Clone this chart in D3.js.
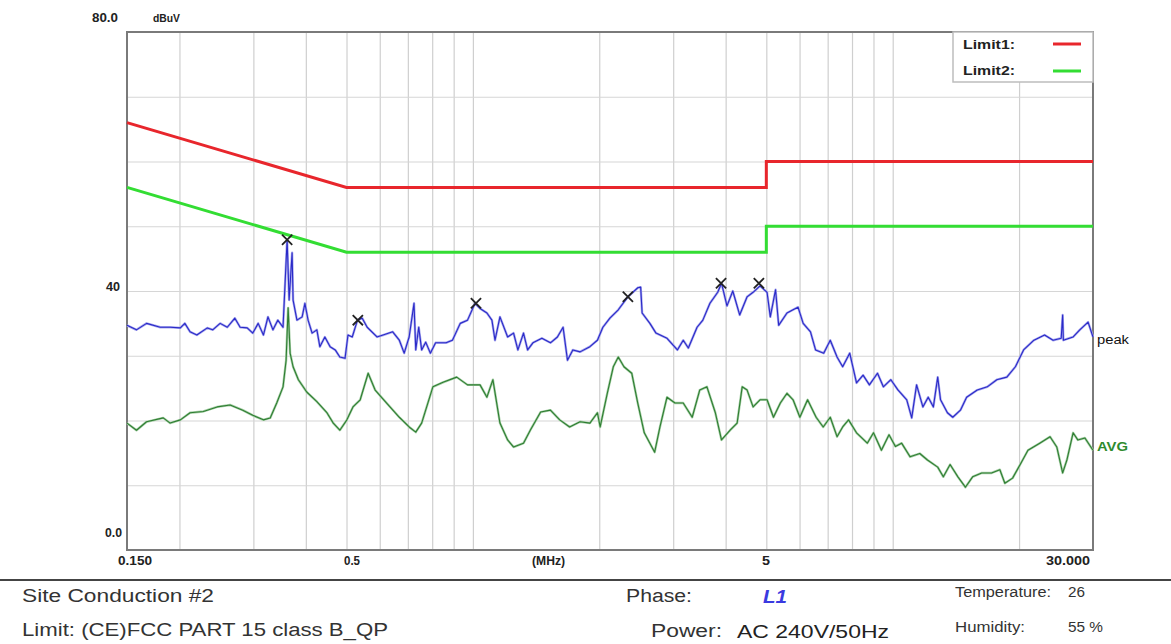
<!DOCTYPE html>
<html><head><meta charset="utf-8">
<script src="https://cdn.jsdelivr.net/npm/d3@7"></script>
<style>
body{margin:0;background:#fff;}
svg{display:block;}
</style></head><body>
<svg id="c" width="1171" height="644"></svg>
<script>
// ---------- DATA ----------
const peakFreq = [0.150,0.158,0.167,0.180,0.190,0.201,0.206,0.212,0.220,0.233,
0.240,0.250,0.260,0.271,0.279,0.290,0.299,0.308,0.317,0.325,
0.334,0.343,0.353,0.357,0.361,0.365,0.371,0.373,0.381,0.392,
0.398,0.405,0.414,0.425,0.432,0.444,0.457,0.470,0.482,0.496,
0.504,0.516,0.531,0.545,0.560,0.591,0.611,0.644,0.668,0.686,
0.705,0.724,0.731,0.743,0.755,0.772,0.792,0.815,0.863,0.894,
0.933,0.971,1.012,1.040,1.080,1.110,1.129,1.16,1.21,1.25,
1.28,1.32,1.35,1.39,1.46,1.53,1.59,1.64,1.68,1.73,
1.80,1.90,1.98,2.04,2.12,2.22,2.34,2.47,2.51,2.53,
2.64,2.73,2.90,3.07,3.17,3.26,3.42,3.53,3.67,3.83,
3.91,4.03,4.16,4.32,4.50,4.65,4.83,5.02,5.11,5.26,
5.35,5.60,5.79,5.95,6.12,6.37,6.55,6.85,7.1,7.37,
7.6,7.9,8.2,8.5,8.8,9.2,9.5,9.9,10.3,10.8,
11.1,11.4,11.8,12.15,12.5,12.8,13.0,13.5,13.9,14.5,
15.0,15.9,16.8,17.7,18.7,19.6,20.5,21.7,23.0,24.1,
25.2,25.4,25.5,26.9,27.9,29.2,30.0];
const peakLevel = [34.7,34.0,35.0,34.4,34.4,34.3,35.0,33.7,33.2,34.3,
34.0,35.0,34.4,35.8,34.4,34.3,33.5,35.0,33.2,36.0,
34.0,35.5,34.4,41.2,47.9,38.6,45.9,38.6,35.5,36.0,
38.1,35.5,33.5,34.0,31.4,32.9,31.4,30.9,29.8,29.6,
33.2,32.9,35.5,35.8,34.4,32.9,33.2,33.7,32.4,30.4,
32.9,38.1,30.9,34.4,30.9,32.1,30.4,32.0,32.0,32.4,
35.0,35.5,38.1,37.3,36.6,35.5,32.4,36.0,32.9,33.5,
30.9,33.5,30.9,32.0,32.7,32.0,32.9,34.4,29.3,30.9,
30.6,31.4,32.4,34.4,35.8,37.1,39.1,40.5,40.6,36.6,
35.0,33.5,32.7,30.9,32.4,31.2,34.4,35.5,38.1,39.8,
41.2,37.7,40.0,36.3,39.1,39.8,40.8,39.8,36.0,40.2,
34.7,36.6,37.1,37.5,35.0,33.7,30.9,30.4,32.4,29.8,
28.3,30.4,25.8,27.0,25.5,27.3,25.2,26.3,24.7,23.2,
20.4,25.5,22.1,23.6,22.1,26.7,23.2,21.2,20.5,21.6,
23.6,24.7,25.2,26.3,26.7,28.3,30.9,32.4,33.2,32.4,
32.7,36.3,32.4,32.9,34.0,35.2,32.9];

const avgFreq = [0.150,0.158,0.167,0.183,0.190,0.201,0.212,0.228,0.246,0.264,
0.283,0.299,0.317,0.329,0.341,0.353,0.359,0.363,0.367,0.373,
0.384,0.402,0.425,0.449,0.465,0.482,0.501,0.518,0.539,0.563,
0.585,0.623,0.668,0.705,0.731,0.755,0.803,0.849,0.915,0.971,
1.040,1.080,1.116,1.16,1.21,1.25,1.32,1.37,1.45,1.53,
1.61,1.70,1.80,1.90,1.98,2.01,2.09,2.16,2.22,2.29,
2.39,2.47,2.56,2.71,2.79,2.90,3.03,3.17,3.33,3.47,
3.61,3.78,3.91,4.10,4.26,4.38,4.50,4.65,4.83,5.02,
5.20,5.40,5.60,5.79,6.01,6.27,6.57,6.83,7.1,7.37,
7.6,7.85,8.2,8.7,9.0,9.4,9.8,10.15,10.5,11.0,
11.6,12.1,12.8,13.2,13.7,14.3,14.9,15.5,16.3,17.2,
18.0,18.5,19.3,20.2,21.0,22.4,23.7,24.6,25.4,26.0,
26.9,27.6,28.7,30.0];
const avgLevel = [19.6,18.5,19.8,20.4,19.6,20.1,21.2,21.4,22.1,22.4,
21.6,20.8,20.1,20.4,22.7,25.2,29.3,37.4,30.4,28.3,
26.3,24.4,22.9,21.2,19.6,18.5,20.1,22.1,23.2,27.3,
24.7,22.7,20.5,19.0,18.2,19.6,25.2,25.9,26.7,25.5,
25.5,23.6,26.3,19.6,17.0,15.9,16.5,18.5,21.3,21.6,
20.1,19.0,19.8,19.6,21.2,19.0,24.2,28.3,29.8,28.3,
27.3,22.7,18.1,15.1,19.0,23.6,22.7,22.7,20.5,24.7,
25.2,21.2,17.0,18.5,19.6,25.2,24.7,22.1,23.2,23.2,
20.5,22.7,24.2,23.2,20.5,23.2,20.5,19.0,20.5,17.5,
19.0,20.1,18.1,16.5,18.1,15.4,17.8,16.0,16.5,14.4,
14.9,13.9,12.8,11.3,13.2,11.3,9.7,11.3,11.9,11.9,
12.4,10.3,11.1,13.4,15.4,16.5,17.5,15.9,11.9,13.9,
18.1,17.0,17.3,15.4];

const limitFreq = [0.15, 0.5, 5, 5, 30];
const limit1 = [66, 56, 56, 60, 60];
const limit2 = [56, 46, 46, 50, 50];

const markerFreq = [0.361, 0.532, 1.017, 2.34, 3.90, 4.80];
const markerLevel = [47.9, 35.5, 38.1, 39.1, 41.2, 41.2];

const gridFreq = [0.2,0.3,0.4,0.5,0.6,0.7,0.8,0.9,1,2,3,4,5,6,7,8,9,10,20];
const gridLevel = [10,20,30,40,50,60,70];
const xTickValues = [0.15, 0.5, 1.5, 5, 30];
const xTickLabels = ["0.150", "0.5", "(MHz)", "5", "30.000"];
const yTickValues = [80, 40, 0];
const yTickLabels = ["80.0", "40", "0.0"];

// ---------- CHART ----------
const svg = d3.select("#c");
const L = 127, R = 1093, T = 32, B = 550;
const x = d3.scaleLog().domain([0.15, 30]).range([L, R]);
const y = d3.scaleLinear().domain([0, 80]).range([B, T]);

svg.append("rect").attr("width",1171).attr("height",644).attr("fill","#fff");

// grid via axes
const gx = svg.append("g").attr("transform",`translate(0,${B})`)
  .call(d3.axisBottom(x).tickValues(gridFreq).tickSize(-(B-T)).tickFormat(""));
gx.select(".domain").remove();
gx.selectAll("line").attr("stroke","#cfcfcf").attr("stroke-width",1.2);

const gy = svg.append("g").attr("transform",`translate(${L},0)`)
  .call(d3.axisLeft(y).tickValues(gridLevel).tickSize(-(R-L)).tickFormat(""));
gy.select(".domain").remove();
gy.selectAll("line").attr("stroke","#d6d6d6").attr("stroke-width",1.2);

// frame
svg.append("rect").attr("x",L).attr("y",T).attr("width",R-L).attr("height",B-T)
  .attr("fill","none").attr("stroke","#7a7a7a").attr("stroke-width",2);

// traces
const lineGen = d3.line().x(d=>x(d[0])).y(d=>y(d[1]));
const avgData = avgFreq.map((f,i)=>[f, avgLevel[i]]);
const peakData = peakFreq.map((f,i)=>[f, peakLevel[i]]);
svg.append("path").datum(avgData).attr("d",lineGen)
  .attr("fill","none").attr("stroke","#a8d0a8").attr("stroke-width",2.4).attr("stroke-linejoin","round");
svg.append("path").datum(avgData).attr("d",lineGen)
  .attr("fill","none").attr("stroke","#2e7d32").attr("stroke-width",1.1).attr("stroke-linejoin","round");
svg.append("path").datum(peakData).attr("d",lineGen)
  .attr("fill","none").attr("stroke","#a9a9ee").attr("stroke-width",2.4).attr("stroke-linejoin","round");
svg.append("path").datum(peakData).attr("d",lineGen)
  .attr("fill","none").attr("stroke","#2a2ac8").attr("stroke-width",1.1).attr("stroke-linejoin","round");

// limits
const lim1 = limitFreq.map((f,i)=>[f, limit1[i]]);
const lim2 = limitFreq.map((f,i)=>[f, limit2[i]]);
svg.append("path").datum(lim1).attr("d",lineGen).attr("fill","none")
  .attr("stroke","#e8262c").attr("stroke-width",3);
svg.append("path").datum(lim2).attr("d",lineGen).attr("fill","none")
  .attr("stroke","#33dd33").attr("stroke-width",3);

// markers
const sym = d3.symbol().type(d3.symbolTimes).size(70);
svg.selectAll("path.mk").data(markerFreq).join("path").attr("class","mk")
  .attr("d", sym)
  .attr("transform",(d,i)=>`translate(${x(d)},${y(markerLevel[i])})`)
  .attr("fill","none").attr("stroke","#222").attr("stroke-width",1.8);

// text helper
function txt(xp, yp, s, o={}) {
  const t = svg.append("text").attr("x",xp).attr("y",yp).text(s)
    .attr("font-family", o.family || "'Liberation Sans', Arial, sans-serif")
    .attr("font-size", o.size || 12)
    .attr("font-weight", o.weight || "normal")
    .attr("font-style", o.style || "normal")
    .attr("fill", o.fill || "#222")
    .attr("text-anchor", o.anchor || "start");
  if (o.len) t.attr("textLength", o.len).attr("lengthAdjust","spacingAndGlyphs");
  return t;
}

// axis labels
const yLabelPos = [22, 291, 537];
const yLabelEnd = [118, 120, 122];
yTickValues.forEach((v,i)=>{
  txt(yLabelEnd[i], yLabelPos[i], yTickLabels[i], {weight:"bold", size:12, anchor:"end",
     len: [26,14,17][i]});
});
txt(153, 22, "dBuV", {weight:"bold", size:11, len:27});

const xLabelX = [118, 344, 532, 762, 1046];
const xLabelLen = [34, 16, 33, 8, 44];
xTickValues.forEach((v,i)=>{
  txt(xLabelX[i], 565, xTickLabels[i], {weight:"bold", size:12, len:xLabelLen[i]});
});

// legend
svg.append("rect").attr("x",953).attr("y",T).attr("width",R-953).attr("height",50)
  .attr("fill","#fff").attr("stroke","#bdbdbd").attr("stroke-width",1.5);
txt(963, 49, "Limit1:", {weight:"bold", size:12, len:52});
txt(963, 75, "Limit2:", {weight:"bold", size:12, len:52});
svg.append("line").attr("x1",1053).attr("x2",1081).attr("y1",44).attr("y2",44)
  .attr("stroke","#e8262c").attr("stroke-width",3);
svg.append("line").attr("x1",1053).attr("x2",1081).attr("y1",71).attr("y2",71)
  .attr("stroke","#33dd33").attr("stroke-width",3);

// trace labels
txt(1097, 344, "peak", {size:12, len:32, fill:"#111"});
txt(1097, 451, "AVG", {size:12, weight:"bold", len:31, fill:"#2e8b2e"});

// bottom info
svg.append("line").attr("x1",0).attr("x2",1171).attr("y1",580).attr("y2",580)
  .attr("stroke","#444").attr("stroke-width",2);
const bodyF = "'Liberation Sans', Arial, sans-serif";
txt(22, 602, "Site  Conduction #2", {size:18, len:192, fill:"#333", family:bodyF});
txt(22, 636, "Limit: (CE)FCC PART 15 class B_QP", {size:18, len:366, fill:"#333", family:bodyF});
txt(626, 602, "Phase:", {size:18, len:66, fill:"#333", family:bodyF});
txt(763, 603, "L1", {size:18, weight:"bold", style:"italic", len:24, fill:"#3a3ae0", family:bodyF});
txt(651, 637, "Power:", {size:18, len:71, fill:"#333", family:bodyF});
txt(737, 638, "AC 240V/50Hz", {size:19, len:152, fill:"#222", family:bodyF});
txt(955, 597, "Temperature:", {size:14, len:96, fill:"#333", family:bodyF});
txt(1068, 597, "26", {size:14, len:17, fill:"#333", family:bodyF});
txt(955, 632, "Humidity:", {size:14, len:70, fill:"#333", family:bodyF});
txt(1068, 632, "55 %", {size:14, len:35, fill:"#333", family:bodyF});
</script>
</body></html>
